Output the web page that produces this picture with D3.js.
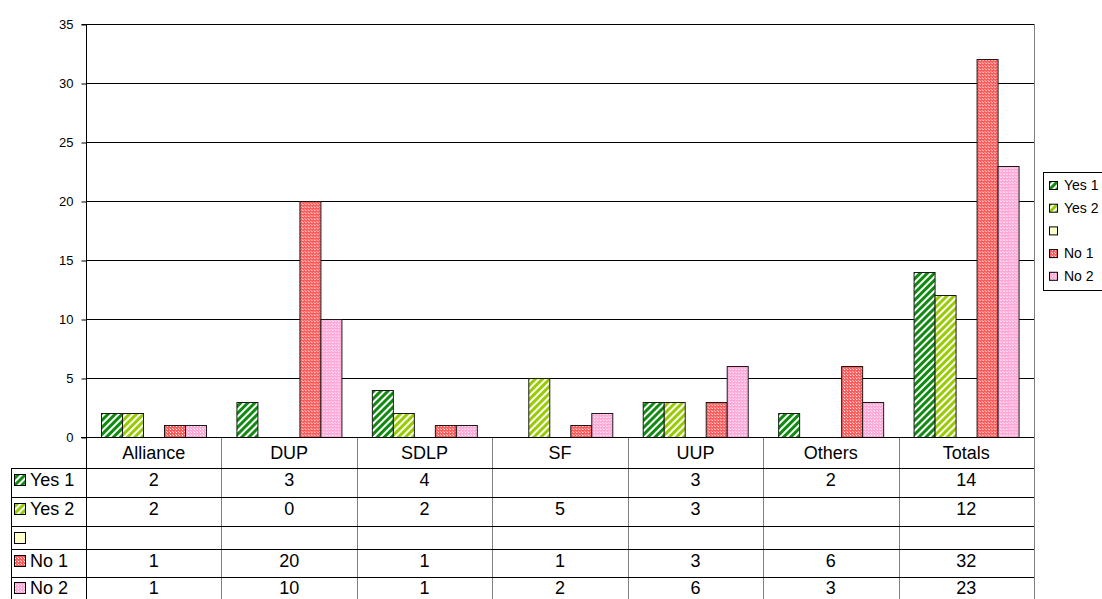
<!DOCTYPE html>
<html lang="en">
<head>
    <meta charset="UTF-8">
    <title>Party votes chart</title>
    <style>
        body { margin: 0; background: #fff; }
        svg { display: block; font-family: "Liberation Sans", Arial, sans-serif; }
    </style>
</head>
<body>
<div id="chart"></div>

<script src="https://d3js.org/d3.v7.min.js"></script>
<script>
    // Chart data
    var categories = ["Alliance", "DUP", "SDLP", "SF", "UUP", "Others", "Totals"];
    var seriesNames = ["Yes 1", "Yes 2", "", "No 1", "No 2"];
    var yes1 = [2, 3, 4, null, 3, 2, 14];
    var yes2 = [2, 0, 2, 5, 3, null, 12];
    var blank = [null, null, null, null, null, null, null];
    var no1 = [1, 20, 1, 1, 3, 6, 32];
    var no2 = [1, 10, 1, 2, 6, 3, 23];
    var yTicks = [0, 5, 10, 15, 20, 25, 30, 35];

    var seriesValues = [yes1, yes2, blank, no1, no2];
    var patternIds = ["pYes1", "pYes2", "pBlank", "pNo1", "pNo2"];

    var width = 1102, height = 599;
    var plot = { left: 86, right: 1034, top: 24, bottom: 437 };

    var svg = d3.select("#chart").append("svg")
        .attr("width", width)
        .attr("height", height);

    // Fill patterns (Excel style)
    var defs = svg.append("defs");

    function stripes(id, color) {
        var p = defs.append("pattern")
            .attr("id", id)
            .attr("patternUnits", "userSpaceOnUse")
            .attr("width", 5).attr("height", 5)
            .attr("patternTransform", "rotate(45)");
        p.append("rect").attr("width", 5).attr("height", 5).attr("fill", color);
        p.append("rect").attr("width", 2).attr("height", 5).attr("fill", "#fff");
    }

    function checks(id, color) {
        var p = defs.append("pattern")
            .attr("id", id)
            .attr("patternUnits", "userSpaceOnUse")
            .attr("width", 3).attr("height", 3);
        p.append("rect").attr("width", 3).attr("height", 3).attr("fill", color);
        p.append("rect").attr("width", 1).attr("height", 1).attr("fill", "#fff");
        p.append("rect").attr("x", 2).attr("y", 2).attr("width", 1).attr("height", 1).attr("fill", "#fff").attr("opacity", 0.6);
    }

    stripes("pYes1", "#108a10");
    stripes("pYes2", "#99cc00");
    defs.append("pattern")
        .attr("id", "pBlank")
        .attr("patternUnits", "userSpaceOnUse")
        .attr("width", 4).attr("height", 4)
        .append("rect").attr("width", 4).attr("height", 4).attr("fill", "#ffffcc");
    checks("pNo1", "#ff5a5a");
    checks("pNo2", "#ffa8d8");

    // Scales
    var x0 = d3.scaleBand()
        .domain(categories)
        .range([plot.left, plot.right]);

    var x1 = d3.scaleBand()
        .domain(seriesNames)
        .range([15, x0.bandwidth() - 15]);

    var y = d3.scaleLinear()
        .domain([0, 35])
        .range([plot.bottom, plot.top]);

    // Gridlines
    svg.append("g")
        .selectAll("line")
        .data(yTicks.filter(function(d) { return d > 0; }))
        .enter().append("line")
        .attr("x1", plot.left).attr("x2", plot.right)
        .attr("y1", function(d) { return y(d) + 0.5; })
        .attr("y2", function(d) { return y(d) + 0.5; })
        .attr("stroke", "#000")
        .attr("stroke-width", 1);

    // Right border of plot
    svg.append("line")
        .attr("x1", plot.right + 0.5).attr("x2", plot.right + 0.5)
        .attr("y1", plot.top).attr("y2", plot.bottom)
        .attr("stroke", "#808080");

    // Bars
    var groups = svg.append("g")
        .selectAll("g")
        .data(categories)
        .enter().append("g")
        .attr("transform", function(d) { return "translate(" + x0(d) + ",0)"; });

    groups.selectAll("rect")
        .data(function(d, i) {
            return seriesNames.map(function(s, j) {
                return { key: s, idx: j, value: seriesValues[j][i] };
            });
        })
        .enter().filter(function(d) { return d.value != null && d.value > 0; })
        .append("rect")
        .attr("x", function(d) { return Math.round(x1(d.key)) + 0.5; })
        .attr("y", function(d) { return Math.round(y(d.value)) + 0.5; })
        .attr("width", Math.round(x1.bandwidth()))
        .attr("height", function(d) { return Math.round(y(0)) - Math.round(y(d.value)); })
        .attr("fill", function(d) { return "url(#" + patternIds[d.idx] + ")"; })
        .attr("stroke", "#1a1a1a")
        .attr("stroke-width", 1);

    // Y axis
    var yAxis = d3.axisLeft(y)
        .tickValues(yTicks)
        .tickSize(5)
        .tickPadding(8)
        .tickFormat(d3.format("d"));

    var yg = svg.append("g")
        .attr("transform", "translate(" + (plot.left + 0.5) + ",0.5)")
        .call(yAxis);
    yg.select(".domain").attr("stroke", "#000").attr("d", "M-5," + (plot.top) + "H0V" + plot.bottom);
    yg.selectAll(".tick line").attr("stroke", "#000");
    yg.selectAll("text")
        .attr("font-size", 13)
        .attr("font-family", "Liberation Sans, Arial, sans-serif")
        .attr("fill", "#000");

    // Data table
    var tableLeft = 11;
    var catRowH = 31;
    var rowHeights = [29, 29, 23, 28, 22];
    var rowTops = [];
    var acc = plot.bottom + catRowH;
    rowHeights.forEach(function(h) { rowTops.push(acc); acc += h; });
    var tableBottom = acc;

    var table = svg.append("g");

    // vertical separators between categories
    table.selectAll("line.vsep")
        .data(categories.slice(1))
        .enter().append("line")
        .attr("class", "vsep")
        .attr("x1", function(d) { return Math.round(x0(d)) + 0.5; })
        .attr("x2", function(d) { return Math.round(x0(d)) + 0.5; })
        .attr("y1", plot.bottom).attr("y2", tableBottom)
        .attr("stroke", "#808080");

    table.append("line")
        .attr("x1", plot.right + 0.5).attr("x2", plot.right + 0.5)
        .attr("y1", plot.bottom).attr("y2", tableBottom)
        .attr("stroke", "#808080");

    table.append("line")
        .attr("x1", plot.left + 0.5).attr("x2", plot.left + 0.5)
        .attr("y1", plot.bottom).attr("y2", tableBottom)
        .attr("stroke", "#000");

    table.append("line")
        .attr("x1", tableLeft + 0.5).attr("x2", tableLeft + 0.5)
        .attr("y1", rowTops[0]).attr("y2", tableBottom)
        .attr("stroke", "#000");

    // horizontal lines
    table.append("line")
        .attr("x1", plot.left - 5).attr("x2", plot.right)
        .attr("y1", plot.bottom + 0.5).attr("y2", plot.bottom + 0.5)
        .attr("stroke", "#000");

    table.selectAll("line.hsep")
        .data(rowTops)
        .enter().append("line")
        .attr("class", "hsep")
        .attr("x1", tableLeft).attr("x2", plot.right)
        .attr("y1", function(d) { return d + 0.5; })
        .attr("y2", function(d) { return d + 0.5; })
        .attr("stroke", "#000");

    // category labels
    table.selectAll("text.cat")
        .data(categories)
        .enter().append("text")
        .attr("class", "cat")
        .attr("x", function(d) { return x0(d) + x0.bandwidth() / 2; })
        .attr("y", plot.bottom + catRowH / 2)
        .attr("dy", "0.35em")
        .attr("text-anchor", "middle")
        .attr("font-size", 18)
        .text(function(d) { return d; });

    // series rows
    seriesNames.forEach(function(s, j) {
        var cy = rowTops[j] + Math.min(rowHeights[j] / 2, 11.5);
        table.append("rect")
            .attr("x", 14.5).attr("y", Math.round(cy - 6) + 0.5)
            .attr("width", 11).attr("height", 11)
            .attr("fill", "url(#" + patternIds[j] + ")")
            .attr("stroke", "#000");
        table.append("text")
            .attr("x", 30).attr("y", cy)
            .attr("dy", "0.35em")
            .attr("font-size", 18)
            .text(s);
        table.selectAll(null)
            .data(seriesValues[j])
            .enter().append("text")
            .attr("x", function(d, i) { return x0(categories[i]) + x0.bandwidth() / 2; })
            .attr("y", cy)
            .attr("dy", "0.35em")
            .attr("text-anchor", "middle")
            .attr("font-size", 18)
            .text(function(d) { return d == null ? "" : d; });
    });

    // Legend
    var legend = svg.append("g");
    legend.append("rect")
        .attr("x", 1043.5).attr("y", 172.5)
        .attr("width", 70).attr("height", 118)
        .attr("fill", "#fff")
        .attr("stroke", "#000");

    var legendItems = legend.selectAll("g")
        .data(seriesNames)
        .enter().append("g")
        .attr("transform", function(d, i) { return "translate(1049," + (185 + i * 22.7) + ")"; });

    legendItems.append("rect")
        .attr("x", 0.5).attr("y", -3.5)
        .attr("width", 8).attr("height", 8)
        .attr("fill", function(d, i) { return "url(#" + patternIds[i] + ")"; })
        .attr("stroke", "#000");

    legendItems.append("text")
        .attr("x", 15).attr("y", 0)
        .attr("dy", "0.35em")
        .attr("font-size", 14)
        .text(function(d) { return d; });
</script>

</body>
</html>
